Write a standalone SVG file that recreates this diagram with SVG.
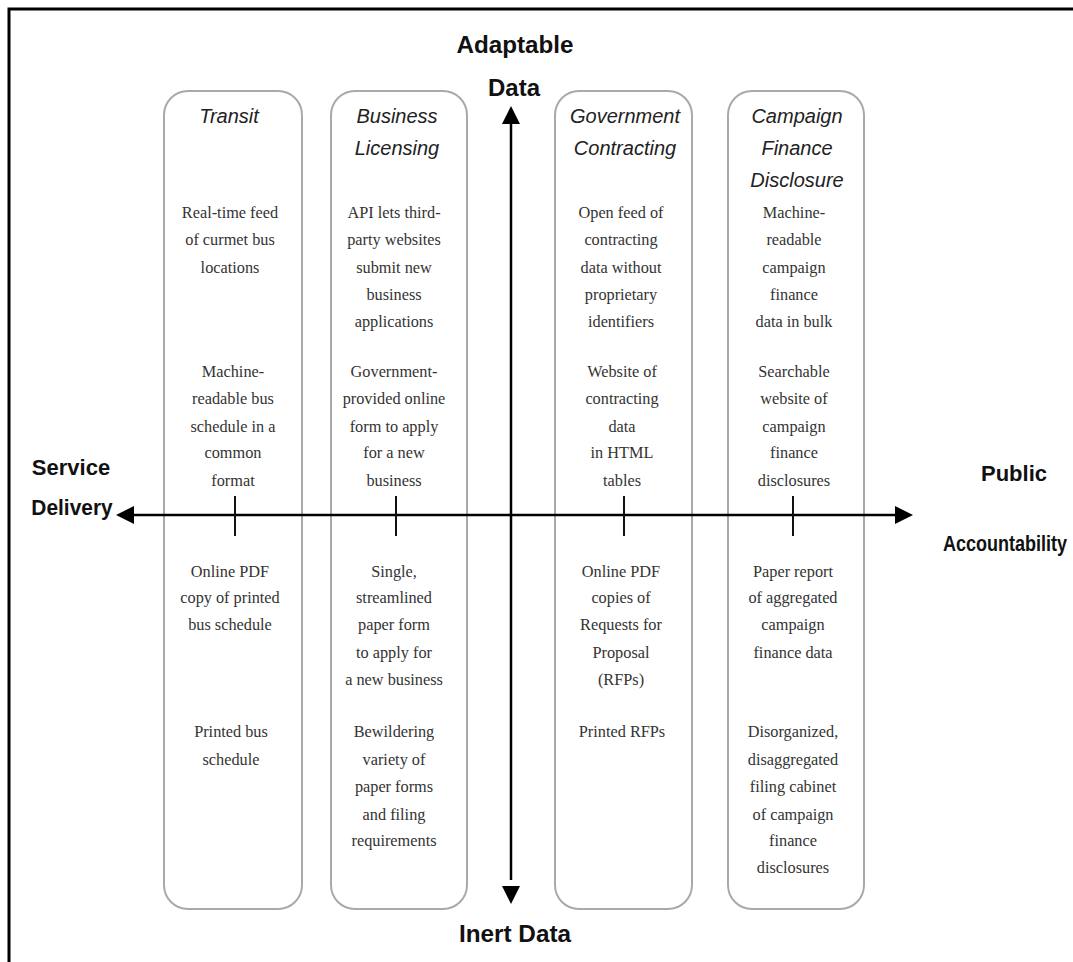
<svg xmlns="http://www.w3.org/2000/svg" width="1073" height="962" viewBox="0 0 1073 962">
<defs>
<style>
.col{fill:#fff;stroke:#a9a9a9;stroke-width:2}
.hd{font-family:"Liberation Sans",Arial,sans-serif;font-style:italic;font-size:20px;fill:#222;text-anchor:middle}
.bd{font-family:"Liberation Serif","Times New Roman",serif;font-size:16.3px;fill:#333;text-anchor:middle}
.ax{font-family:"Liberation Sans",Arial,sans-serif;font-weight:bold;font-size:24px;fill:#111;text-anchor:middle}
.sx{font-family:"Liberation Sans",Arial,sans-serif;font-weight:bold;font-size:22px;fill:#111;text-anchor:middle}
.axl{stroke:#000;stroke-width:2.5;fill:none}
.tick{stroke:#111;stroke-width:2}
</style>
</defs>
<rect width="1073" height="962" fill="#fff"/>
<path d="M9,962 V9 H1073" fill="none" stroke="#000" stroke-width="3"/>

<g id="transit">
<rect class="col" x="164" y="91" width="138" height="818" rx="24"/>
<text class="hd" x="229" y="123">Transit</text>
<text class="bd" x="230"><tspan x="230" y="218">Real-time feed</tspan><tspan x="230" y="245">of curmet bus</tspan><tspan x="230" y="273">locations</tspan></text>
<text class="bd" x="233"><tspan x="233" y="377">Machine-</tspan><tspan x="233" y="404">readable bus</tspan><tspan x="233" y="432">schedule in a</tspan><tspan x="233" y="458">common</tspan><tspan x="233" y="486">format</tspan></text>
<text class="bd" x="230"><tspan x="230" y="577">Online PDF</tspan><tspan x="230" y="603">copy of printed</tspan><tspan x="230" y="630">bus schedule</tspan></text>
<text class="bd" x="231"><tspan x="231" y="737">Printed bus</tspan><tspan x="231" y="765">schedule</tspan></text>
</g>

<g id="business">
<rect class="col" x="331" y="91" width="136" height="818" rx="24"/>
<text class="hd" x="397"><tspan x="397" y="123">Business</tspan><tspan x="397" y="155">Licensing</tspan></text>
<text class="bd" x="394"><tspan x="394" y="218">API lets third-</tspan><tspan x="394" y="245">party websites</tspan><tspan x="394" y="273">submit new</tspan><tspan x="394" y="300">business</tspan><tspan x="394" y="327">applications</tspan></text>
<text class="bd" x="394"><tspan x="394" y="377">Government-</tspan><tspan x="394" y="404">provided online</tspan><tspan x="394" y="432">form to apply</tspan><tspan x="394" y="458">for a new</tspan><tspan x="394" y="486">business</tspan></text>
<text class="bd" x="394"><tspan x="394" y="577">Single,</tspan><tspan x="394" y="603">streamlined</tspan><tspan x="394" y="630">paper form</tspan><tspan x="394" y="658">to apply for</tspan><tspan x="394" y="685">a new business</tspan></text>
<text class="bd" x="394"><tspan x="394" y="737">Bewildering</tspan><tspan x="394" y="765">variety of</tspan><tspan x="394" y="792">paper forms</tspan><tspan x="394" y="820">and filing</tspan><tspan x="394" y="846">requirements</tspan></text>
</g>

<g id="government">
<rect class="col" x="555" y="91" width="137" height="818" rx="24"/>
<text class="hd" x="625"><tspan x="625" y="123">Government</tspan><tspan x="625" y="155">Contracting</tspan></text>
<text class="bd" x="621"><tspan x="621" y="218">Open feed of</tspan><tspan x="621" y="245">contracting</tspan><tspan x="621" y="273">data without</tspan><tspan x="621" y="300">proprietary</tspan><tspan x="621" y="327">identifiers</tspan></text>
<text class="bd" x="622"><tspan x="622" y="377">Website of</tspan><tspan x="622" y="404">contracting</tspan><tspan x="622" y="432">data</tspan><tspan x="622" y="458">in HTML</tspan><tspan x="622" y="486">tables</tspan></text>
<text class="bd" x="621"><tspan x="621" y="577">Online PDF</tspan><tspan x="621" y="603">copies of</tspan><tspan x="621" y="630">Requests for</tspan><tspan x="621" y="658">Proposal</tspan><tspan x="621" y="685">(RFPs)</tspan></text>
<text class="bd" x="622" y="737">Printed RFPs</text>
</g>

<g id="campaign">
<rect class="col" x="728" y="91" width="136" height="818" rx="24"/>
<text class="hd" x="797"><tspan x="797" y="123">Campaign</tspan><tspan x="797" y="155">Finance</tspan><tspan x="797" y="187">Disclosure</tspan></text>
<text class="bd" x="794"><tspan x="794" y="218">Machine-</tspan><tspan x="794" y="245">readable</tspan><tspan x="794" y="273">campaign</tspan><tspan x="794" y="300">finance</tspan><tspan x="794" y="327">data in bulk</tspan></text>
<text class="bd" x="794"><tspan x="794" y="377">Searchable</tspan><tspan x="794" y="404">website of</tspan><tspan x="794" y="432">campaign</tspan><tspan x="794" y="458">finance</tspan><tspan x="794" y="486">disclosures</tspan></text>
<text class="bd" x="793"><tspan x="793" y="577">Paper report</tspan><tspan x="793" y="603">of aggregated</tspan><tspan x="793" y="630">campaign</tspan><tspan x="793" y="658">finance data</tspan></text>
<text class="bd" x="793"><tspan x="793" y="737">Disorganized,</tspan><tspan x="793" y="765">disaggregated</tspan><tspan x="793" y="792">filing cabinet</tspan><tspan x="793" y="820">of campaign</tspan><tspan x="793" y="846">finance</tspan><tspan x="793" y="873">disclosures</tspan></text>
</g>

<g id="connectors">
<line class="axl" x1="511" y1="880" x2="511" y2="116"/>
<path d="M511,106 L502,124 L520,124 z" fill="#000"/>
<path d="M511,904 L502,886 L520,886 z" fill="#000"/>
<line class="axl" x1="132" y1="515" x2="896" y2="515"/>
<path d="M116,515 L134,506 L134,524 z" fill="#000"/>
<path d="M913,515 L895,506 L895,524 z" fill="#000"/>
<line class="tick" x1="235" y1="496" x2="235" y2="536"/>
<line class="tick" x1="396" y1="496" x2="396" y2="536"/>
<line class="tick" x1="624" y1="496" x2="624" y2="536"/>
<line class="tick" x1="793" y1="496" x2="793" y2="536"/>
</g>

<g id="axis-labels">
<text class="ax" x="515" y="53" textLength="117" lengthAdjust="spacingAndGlyphs">Adaptable</text>
<text class="ax" x="514" y="96">Data</text>
<text class="ax" x="515" y="942" textLength="112" lengthAdjust="spacingAndGlyphs">Inert Data</text>
<text class="sx" x="71" y="475">Service</text>
<text class="sx" transform="translate(72,515) scale(0.95,1)">Delivery</text>
<text class="sx" x="1014" y="481">Public</text>
<text class="sx" transform="translate(1005,551) scale(0.82,1)">Accountability</text>
</g>
</svg>
